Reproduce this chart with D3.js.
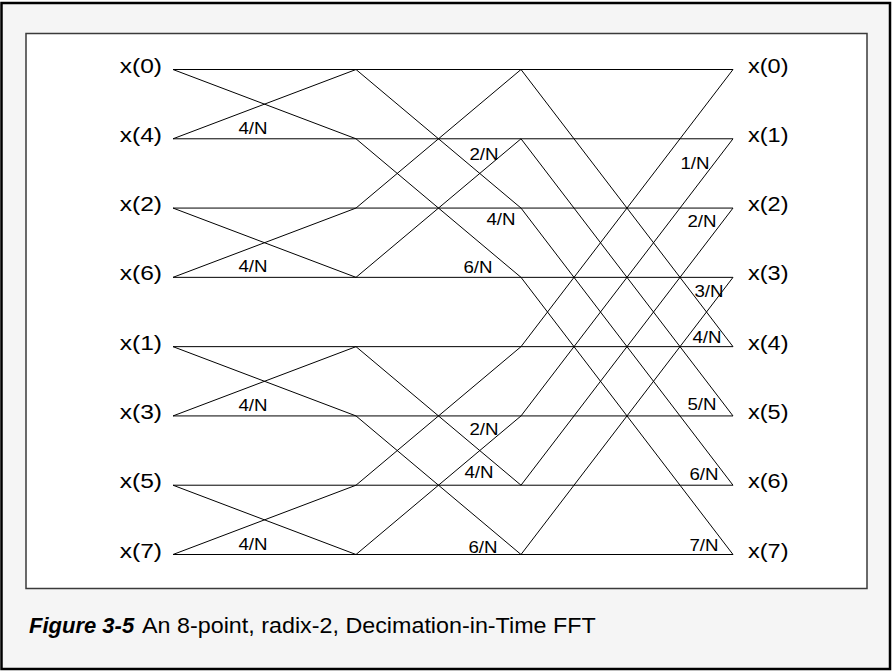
<!DOCTYPE html>
<html>
<head>
<meta charset="utf-8">
<script src="https://cdn.jsdelivr.net/npm/d3@7"></script>
<style>
  html, body { margin: 0; padding: 0; background: #ffffff; }
  svg { display: block; }
</style>
</head>
<body>
<svg id="chart" width="892" height="671"></svg>
<script>
// ---- data ----
const inputLabels  = ["x(0)", "x(4)", "x(2)", "x(6)", "x(1)", "x(3)", "x(5)", "x(7)"];
const outputLabels = ["x(0)", "x(1)", "x(2)", "x(3)", "x(4)", "x(5)", "x(6)", "x(7)"];
const stages = [0, 1, 2, 3];               // column boundaries (input, stage1, stage2, output)
const spans  = [1, 2, 4];                  // butterfly span per stage
const twiddleStage1 = ["", "4/N", "", "4/N", "", "4/N", "", "4/N"];
const twiddleStage2 = ["", "2/N", "4/N", "6/N", "", "2/N", "4/N", "6/N"];
const twiddleStage3 = ["", "1/N", "2/N", "3/N", "4/N", "5/N", "6/N", "7/N"];
const captionBold = "Figure 3-5";
const captionText = "An 8-point, radix-2, Decimation-in-Time FFT";

// ---- layout ----
const W = 892, H = 671;
const svg = d3.select("#chart");
const rows = d3.range(inputLabels.length);
const y = d3.scaleLinear().domain([0, 7]).range([69.5, 554.5]);
const x = d3.scaleOrdinal().domain(stages).range([173, 356, 521, 733]);

// twiddle label anchor offsets (centre x relative to stage end node, baseline dy relative to row)
const twOffsets = [
  rows.map(r => ({dx: 253 - 356, dy: -5})),
  [null, {dx: -37, dy: 21}, {dx: -20, dy: 17}, {dx: -43, dy: -4.5},
   null, {dx: -37, dy: 19.5}, {dx: -42, dy: -7.5}, {dx: -38, dy: -1.5}],
  [null, {dx: -38, dy: 30}, {dx: -31, dy: 19}, {dx: -24, dy: 20},
   {dx: -26, dy: -4}, {dx: -31, dy: -6}, {dx: -29, dy: -5}, {dx: -29, dy: -4}]
];
const twiddles = [twiddleStage1, twiddleStage2, twiddleStage3];
const font = "'Liberation Sans', Arial, Helvetica, sans-serif";

function stretchedText(sel, px, py, s) {
  return sel.attr("transform", (d, i) => `translate(${px(d, i)},${py(d, i)}) scale(${s},1)`);
}

// ---- frame ----
svg.append("rect").attr("x", 0).attr("y", 0).attr("width", W).attr("height", H).attr("fill", "#ffffff");
svg.append("rect").attr("x", 1.5).attr("y", 3).attr("width", 888.5).attr("height", 666)
  .attr("fill", "#f5f5f5").attr("stroke", "#000").attr("stroke-width", 2.5);
svg.append("rect").attr("x", 26).attr("y", 33.5).attr("width", 841).attr("height", 555)
  .attr("fill", "#ffffff").attr("stroke", "#3a3a3a").attr("stroke-width", 1.5);

const g = svg.append("g").attr("stroke", "#000").attr("stroke-width", 1).attr("fill", "none");

// horizontal lines
g.selectAll("line.h").data(rows).join("line").attr("class", "h")
  .attr("x1", x(0)).attr("x2", x(3))
  .attr("y1", d => y(d)).attr("y2", d => y(d));

// butterfly diagonals
const diag = [];
spans.forEach((s, si) => {
  rows.forEach(r => {
    if (Math.floor(r / s) % 2 === 0) {
      diag.push({x1: x(si), y1: y(r), x2: x(si + 1), y2: y(r + s)});
      diag.push({x1: x(si), y1: y(r + s), x2: x(si + 1), y2: y(r)});
    }
  });
});
g.selectAll("line.d").data(diag).join("line").attr("class", "d")
  .attr("x1", d => d.x1).attr("y1", d => d.y1)
  .attr("x2", d => d.x2).attr("y2", d => d.y2);

// labels
svg.selectAll("text.in").data(inputLabels).join("text").attr("class", "in")
  .call(stretchedText, () => 162, (d, i) => y(i) + 3, 1.17)
  .attr("text-anchor", "end").attr("font-family", font).attr("font-size", 21)
  .text(d => d);
svg.selectAll("text.out").data(outputLabels).join("text").attr("class", "out")
  .call(stretchedText, () => 748, (d, i) => y(i) + 3, 1.12)
  .attr("text-anchor", "start").attr("font-family", font).attr("font-size", 21)
  .text(d => d);

twiddles.forEach((arr, si) => {
  const items = arr.map((t, r) => ({t, r})).filter(d => d.t !== "");
  svg.selectAll("text.tw" + si).data(items).join("text").attr("class", "tw" + si)
    .call(stretchedText, d => x(si + 1) + twOffsets[si][d.r].dx, d => y(d.r) + twOffsets[si][d.r].dy, 1.17)
    .attr("text-anchor", "middle").attr("font-family", font).attr("font-size", 16)
    .text(d => d.t);
});

// caption
svg.append("text").attr("transform", "translate(29,633)")
  .attr("font-family", font).attr("font-size", 22).attr("font-weight", "bold")
  .attr("font-style", "italic").attr("fill", "#000").text(captionBold);
svg.append("text").attr("transform", "translate(142,633) scale(1.06,1)")
  .attr("font-family", font).attr("font-size", 22).attr("fill", "#000").text(captionText);
</script>
</body>
</html>
